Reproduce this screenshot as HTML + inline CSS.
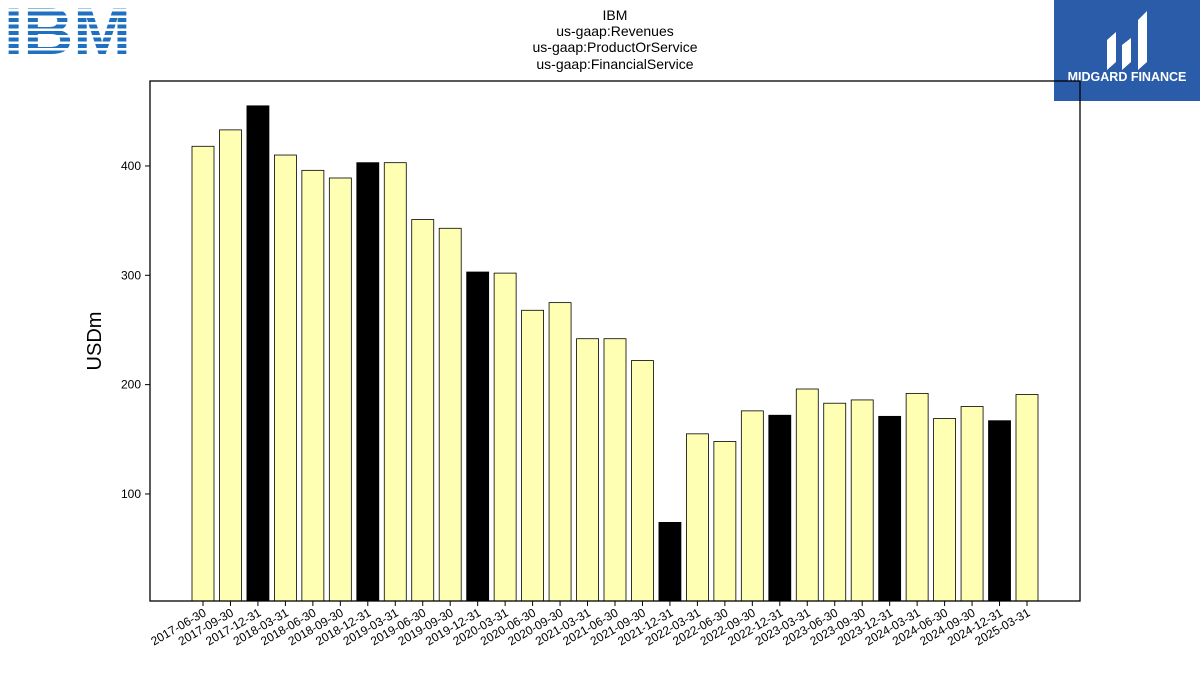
<!DOCTYPE html>
<html><head><meta charset="utf-8"><style>
body{margin:0;background:#fff;width:1200px;height:675px;overflow:hidden;font-family:"Liberation Sans","DejaVu Sans",sans-serif}
</style></head><body>
<svg id="c" width="1200" height="675" xmlns="http://www.w3.org/2000/svg">
<g>
<text x="4" y="54" font-family="Liberation Sans, sans-serif" font-weight="bold" font-size="66" fill="#1f70c1" textLength="127" lengthAdjust="spacingAndGlyphs">IBM</text>
<g fill="#fff"><rect x="0" y="9" width="140" height="2.5"/><rect x="0" y="15.5" width="140" height="2.5"/><rect x="0" y="22" width="140" height="2.5"/><rect x="0" y="28.5" width="140" height="2.5"/><rect x="0" y="35" width="140" height="2.5"/><rect x="0" y="41.5" width="140" height="2.5"/><rect x="0" y="48" width="140" height="2.5"/></g>
</g>
<g>
<rect x="1054" y="0" width="146" height="101" fill="#2a5caa"/>
<path d="M1107 70 L1107 40 L1116 32 L1116 62 Z M1122 70 L1122 45 L1131 38 L1131 62 Z M1138 70 L1138 20 L1147 11 L1147 62 Z" fill="#fff"/>
<text x="1127" y="81" text-anchor="middle" font-size="12.5" font-weight="bold" fill="#fff">MIDGARD FINANCE</text>
</g>
<g font-size="14" text-anchor="middle" fill="#000">
<text x="615" y="20">IBM</text><text x="615" y="36">us-gaap:Revenues</text><text x="615" y="52">us-gaap:ProductOrService</text><text x="615" y="69">us-gaap:FinancialService</text>
</g>
<text x="0" y="0" font-size="20" text-anchor="middle" transform="translate(101,341) rotate(-90)">USDm</text>
<g id="bars"></g><g id="axes"></g>
</svg>
<script>
const categories=["2017-06-30","2017-09-30","2017-12-31","2018-03-31","2018-06-30","2018-09-30","2018-12-31","2019-03-31","2019-06-30","2019-09-30","2019-12-31","2020-03-31","2020-06-30","2020-09-30","2021-03-31","2021-06-30","2021-09-30","2021-12-31","2022-03-31","2022-06-30","2022-09-30","2022-12-31","2023-03-31","2023-06-30","2023-09-30","2023-12-31","2024-03-31","2024-06-30","2024-09-30","2024-12-31","2025-03-31"];
const values=[418,433,455,410,396,389,403,403,351,343,303,302,268,275,242,242,222,74,155,148,176,172,196,183,186,171,192,169,180,167,191];
const yTicks=[100,200,300,400];
const NS="http://www.w3.org/2000/svg";
const L=150,R=1080,T=81,B=601;
const y0=603.3,k=328/300;
const y=v=>y0-v*k;
const step=(1027-203)/30;
const x=i=>203+i*step;
const bw=22;
const bars=document.getElementById('bars'),axes=document.getElementById('axes');
function mk(t,a,p){const e=document.createElementNS(NS,t);for(const q in a)e.setAttribute(q,a[q]);p.appendChild(e);return e;}
values.forEach((v,i)=>{
 const blk=categories[i].endsWith("12-31");
 const r=mk('rect',{x:x(i)-bw/2,y:y(v),width:bw,height:Math.max(0,B-y(v)),fill:blk?'#000':'#ffffb3',stroke:'#000','stroke-width':0.8},bars);
 
 
 const tk=mk('line',{x1:x(i),x2:x(i),y1:B,y2:B+5,stroke:'#000'},axes);
 
 
 const t=mk('text',{x:0,y:0,'font-size':12,'text-anchor':'end',transform:`translate(${x(i)+4},${B+14}) rotate(-30)`},axes);
 t.textContent=categories[i];
 
 
});
yTicks.forEach(v=>{
 const tk=mk('line',{x1:L-5,x2:L,y1:y(v),y2:y(v),stroke:'#000'},axes);
 
 
 const t=mk('text',{x:L-9,y:y(v)+4,'font-size':12,'text-anchor':'end'},axes);
 t.textContent=v;
 
 
});
const f=mk('rect',{x:L,y:T,width:R-L,height:B-T,fill:'none',stroke:'#000','stroke-width':1.3},axes);


</script>
</body></html>
